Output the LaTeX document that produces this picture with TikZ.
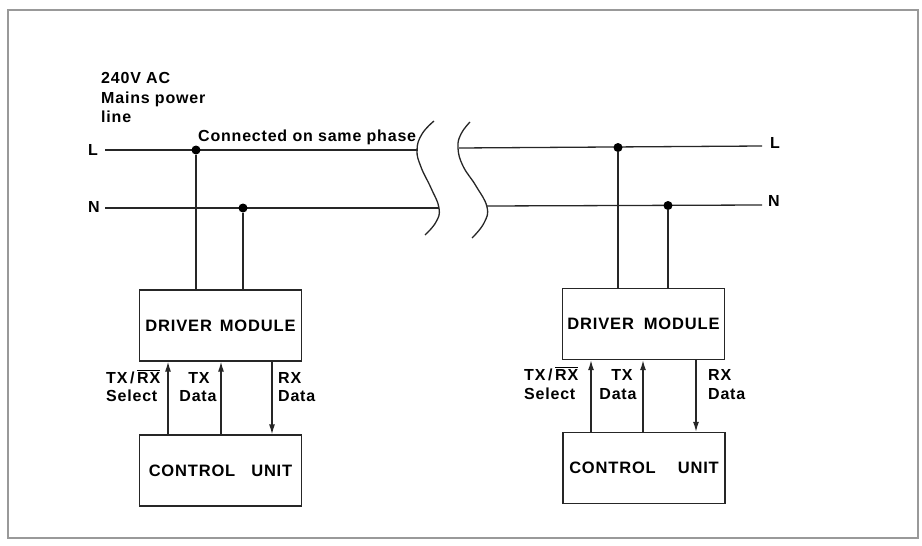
\documentclass[tikz,border=0pt]{standalone}
\usepackage{fontspec}
\setmainfont{Liberation Sans}[LetterSpace=5]
\usetikzlibrary{arrows.meta}
\tikzset{
  wire/.style={line width=1.3pt, draw=black!85},
  frame/.style={line width=1.2pt, draw=black!40},
  box/.style={draw=black!85, line width=1.3pt, minimum width=162pt, minimum height=71pt, inner sep=0pt,
    font=\fontsize{16.5}{19}\selectfont\bfseries},
  jdot/.style={circle, fill=black, inner sep=0pt, minimum size=9pt},
  lbl/.style={inner sep=0pt, font=\fontsize{16}{19}\selectfont\bfseries},
  sig/.style={wire, -{Latex[length=10pt,width=6pt]}},
}
\newcommand{\rxbar}{TX\,/\,$\overline{\mbox{RX}}$}
\begin{document}
\begin{tikzpicture}[x=1pt,y=-1pt]
\useasboundingbox (0,0) rectangle (922,546);
\draw[frame] (8,10) rectangle (918,538);

% mains label
\node[lbl, anchor=base west] (t1) at (101,83) {240V AC};
\node[lbl, anchor=base west] (t2) at (101,103) {Mains power};
\node[lbl, anchor=base west] (t3) at (101,122) {line};
\node[lbl, anchor=base west] (phase) at (198,141) {Connected on same phase};

% line labels
\node[lbl, anchor=base west] (LlabA) at (88,155) {L};
\node[lbl, anchor=base west] (NlabA) at (88,212) {N};
\node[lbl, anchor=base west] (LlabB) at (770,148) {L};
\node[lbl, anchor=base west] (NlabB) at (768,206) {N};

% line coordinates
\coordinate (LA0) at (105,150);
\coordinate (LA1) at (418,150);
\coordinate (NA0) at (105,208);
\coordinate (NA1) at (439,208);
\coordinate (LB0) at (459,148);
\coordinate (LB1) at (762,146);
\coordinate (NB0) at (487,206);
\coordinate (NB1) at (762,205);
\draw[wire] (LA0) -- (LA1);
\draw[wire] (NA0) -- (NA1);
\draw[wire] (LB0) -- (LB1);
\draw[wire] (NB0) -- (NB1);

% break curves
\draw[wire] plot[smooth, tension=0.75] coordinates {(434,121) (422,134) (417,150) (421,167) (431,188) (439,208) (436,222) (425,235)};
\draw[wire] plot[smooth, tension=0.75] coordinates {(470,122) (461,134) (458,148) (463,166) (476,186) (487,207) (484,223) (472,238)};

% boxes
\node[box] (drvA) at (220.5,325.5) {DRIVER\hspace{8pt}MODULE};
\node[box] (ctlA) at (220.5,470.5) {CONTROL\hspace{16pt}UNIT};
\node[box] (drvB) at (643.5,324) {DRIVER\hspace{10pt}MODULE};
\node[box] (ctlB) at (644,468) {CONTROL\hspace{22pt}UNIT};

% junction dots
\node[jdot] (dLA) at (196,150) {};
\node[jdot] (dNA) at (243,208) {};
\node[jdot] (dLB) at (618,147.5) {};
\node[jdot] (dNB) at (668,205.5) {};
\draw[wire] (dLA) -- (dLA |- drvA.north);
\draw[wire] (dNA) -- (dNA |- drvA.north);
\draw[wire] (dLB) -- (dLB |- drvB.north);
\draw[wire] (dNB) -- (dNB |- drvB.north);

% signal arrows left
\coordinate (sA) at (168,0);
\coordinate (tA) at (221,0);
\coordinate (rA) at (272,0);
\draw[sig] (ctlA.north -| sA) -- (drvA.south -| sA);
\draw[sig] (ctlA.north -| tA) -- (drvA.south -| tA);
\draw[sig] (drvA.south -| rA) -- (ctlA.north -| rA);
% signal arrows right
\coordinate (sB) at (591,0);
\coordinate (tB) at (643,0);
\coordinate (rB) at (696,0);
\draw[sig] (ctlB.north -| sB) -- (drvB.south -| sB);
\draw[sig] (ctlB.north -| tB) -- (drvB.south -| tB);
\draw[sig] (drvB.south -| rB) -- (ctlB.north -| rB);

% signal labels left
\node[lbl, anchor=base west] (selA1) at (106,383) {\rxbar};
\node[lbl, anchor=base west] (selA2) at (106,401) {Select};
\node[lbl, anchor=base] (txA1) at (199,383) {TX};
\node[lbl, anchor=base] (txA2) at (198,401) {Data};
\node[lbl, anchor=base west] (rxA1) at (278,383) {RX};
\node[lbl, anchor=base west] (rxA2) at (278,401) {Data};
% signal labels right
\node[lbl, anchor=base west] (selB1) at (524,380) {\rxbar};
\node[lbl, anchor=base west] (selB2) at (524,399) {Select};
\node[lbl, anchor=base] (txB1) at (622,380) {TX};
\node[lbl, anchor=base] (txB2) at (618,399) {Data};
\node[lbl, anchor=base west] (rxB1) at (708,380) {RX};
\node[lbl, anchor=base west] (rxB2) at (708,399) {Data};
\end{tikzpicture}
\end{document}
